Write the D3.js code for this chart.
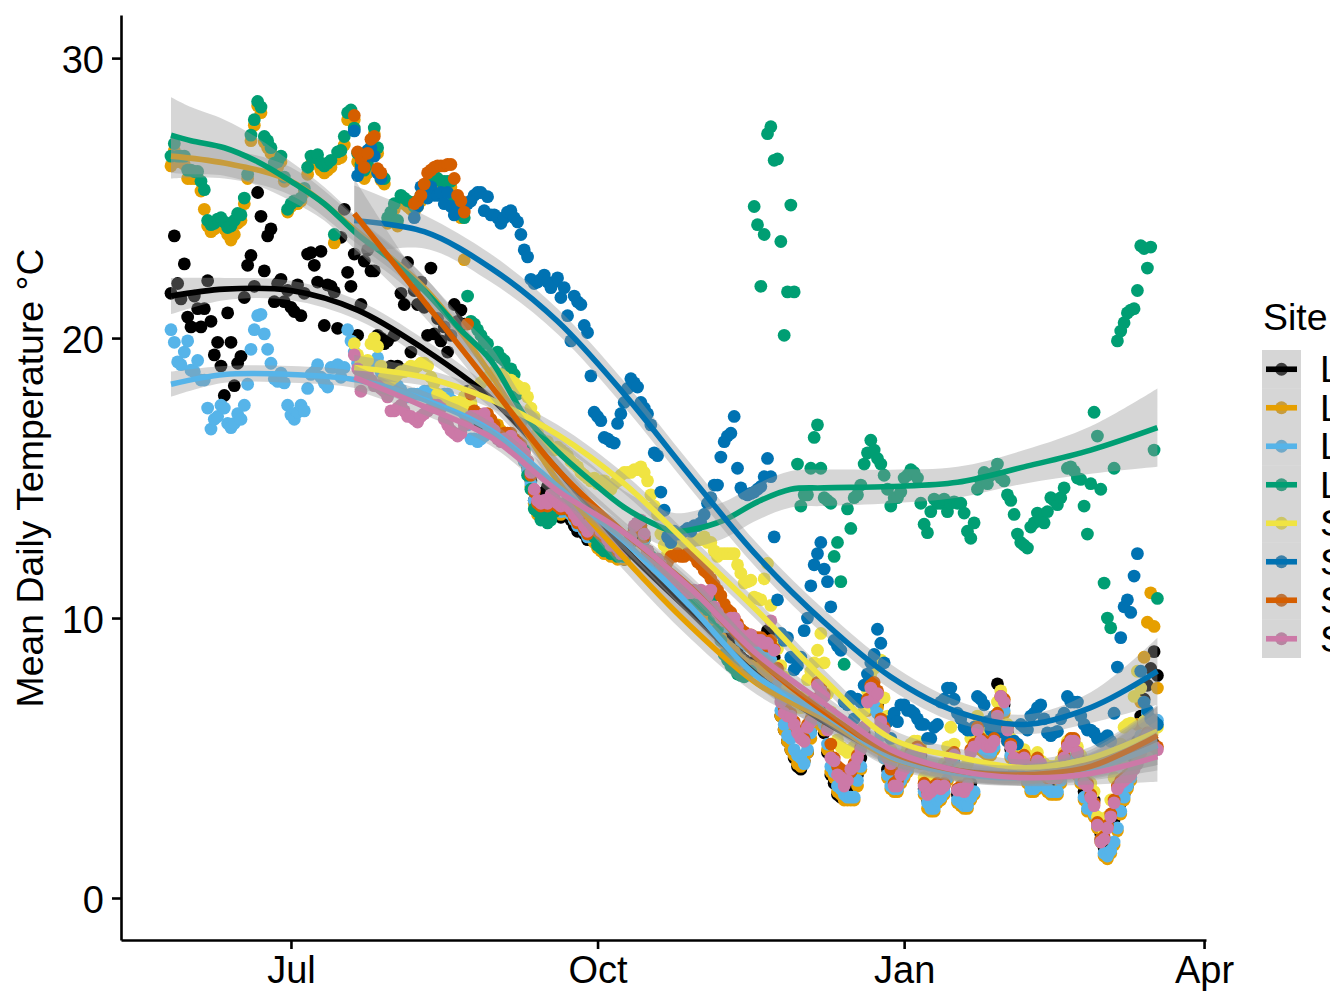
<!DOCTYPE html>
<html>
<head>
<meta charset="utf-8">
<script src="https://cdn.jsdelivr.net/npm/d3@7"></script>
<style>
  html, body { margin: 0; padding: 0; background: #fff; overflow: hidden; }
  svg { display: block; font-family: "Liberation Sans", Arial, sans-serif; }
</style>
</head>
<body>
<div id="chart"></div>
<script>
// site names are cut off at the edge of the picture, only the first letter shows
const siteLabels = ["L", "L", "L", "L", "S", "S", "S", "S"];
const siteColors = ["#000000", "#E69F00", "#56B4E9", "#009E73", "#F0E442", "#0072B2", "#D55E00", "#CC79A7"];
const tickMonths = ["2018-07-01", "2018-10-01", "2019-01-01", "2019-04-01"];
const tickLabels = ["Jul", "Oct", "Jan", "Apr"];
const tempTicks = [0, 10, 20, 30];

// daily means, days counted from 1 Jul. L sites start on day -36, S sites on day 19
const startL = -36;
const startS = 19;

const l1Temps = [
  21.6,23.65,21.95,21.4,22.65,20.75,20.4,21.5,21.05,20.4,
  21.05,22.05,20.6,19.4,19.85,19,17.95,20.9,19.85,18.3,
  19.1,19.35,21.45,22.6,22.95,21.85,25.2,24.35,22.4,23.65,
  23.9,21.3,21.95,22.1,21.3,21.7,21.1,20.95,21.9,20.8,
  21.6,23,23.05,22.6,22,23.1,20.45,21.9,21.85,21.65,
  20.35,23.6,24.6,22.35,21.85,23,20.1,21.2,22.75,23.15,
  22.4,22.4,20.1,20,19.8,19.9,19,20.1,19,21.6,
  21.2,22.7,19.5,21.7,21.2,22,21.1,20.1,22.5,20.15,
  20.7,19.9,20.4,19.5,20.1,21.2,20.6,21.0,20.5,18.1,
  17.6,17.1,17.0,16.9,16.8,16.7,16.8,16.7,16.6,16.6,
  16.5,16.4,16.5,16.2,16.1,16.0,15.7,15.4,14.9,14.2,
  13.8,13.7,14.5,14.7,14.2,14.0,13.7,13.6,13.7,13.7,
  13.5,13.3,13.1,13.3,13.0,12.8,13.0,12.9,12.8,12.6,
  12.4,12.4,12.4,12.3,12.2,12.2,12.1,12.4,12.7,13.0,
  13.1,13.2,12.8,12.2,12.0,11.9,11.8,11.6,11.5,11.3,
  11.2,11.2,11.1,11.0,10.9,10.8,10.8,10.7,10.6,10.6,
  10.5,10.4,10.3,10.1,9.8,9.5,9.4,9.3,9.2,9.2,
  8.9,8.6,8.5,8.4,8.4,8.3,8.3,8.3,8.2,9.55,
  9.3,8.6,7.7,6.5,6.0,5.6,5.3,5.0,4.7,4.6,
  4.9,5.2,6.0,6.5,6.8,6.7,5.9,5.2,4.4,4.1,
  3.7,3.6,3.7,4.2,3.9,4.2,4.4,5.0,5.9,7.0,
  7.6,7.2,6.9,6.0,5.2,4.6,4.2,4.1,4.1,4.4,
  4.6,4.8,5.0,5.1,5.2,5.1,3.9,3.5,3.3,3.3,
  3.7,3.8,4.0,4.5,5.0,5.0,3.7,3.6,3.5,3.5,
  4.1,5.5,5.7,5.6,5.5,5.6,5.9,6.1,7.65,7.0,
  6.9,5.9,5.3,4.9,4.8,4.8,4.8,4.4,4.1,4.1,
  4.3,4.5,4.4,4.2,4.1,4.1,4.2,4.5,4.9,5.3,
  5.5,5.4,4.8,4.5,3.8,3.4,3.4,3.5,2.8,2.3,
  1.8,1.7,1.9,2.8,3.2,3.4,3.7,4.0,4.4,5.0,
  5.6,6.5,7.1,7.6,8.2,8.8,7.95
];

const l2Temps = [
  26.15,26.7,26.3,26.3,26.2,25.7,25.7,25.7,25.7,25.25,
  24.6,24.0,23.8,23.9,24.0,24.0,23.9,23.7,23.5,23.7,
  24.1,24.2,24.8,25.7,27.05,27.6,28.3,28.05,27.0,26.8,
  26.6,26.1,26.1,26.3,25.6,24.5,24.7,24.8,24.8,24.9,
  25.2,25.85,26.2,26.3,26.35,26.0,25.9,26.0,26.1,23.4,
  26.4,26.45,26.9,27.8,28.1,27.8,26.3,26.1,25.7,25.9,
  26.6,27.3,26.6,25.65,25.5,24.1,24.3,24.6,24.0,24.9,
  24.8,24.7,24.6,24.5,24.7,24.9,25.0,25.3,25.4,25.6,
  25.5,25.4,25.4,25.4,25.4,24.8,24.5,24.3,22.8,18.0,
  17.5,17.3,17.2,17.1,17.0,17.0,16.9,16.9,16.9,16.7,
  16.5,16.5,16.4,16.2,16.1,15.9,15.6,15.3,14.7,14.1,
  13.7,13.6,13.6,13.6,13.7,13.8,13.8,13.7,13.8,13.8,
  13.8,13.5,13.5,13.4,13.3,13.0,12.9,12.7,12.5,12.4,
  12.3,12.3,12.2,12.2,12.1,12.2,12.1,12.4,12.8,13.1,
  13.3,13.2,12.8,12.3,12.1,11.9,11.8,11.6,11.4,11.3,
  11.2,11.1,10.9,10.8,10.7,10.5,10.5,10.6,10.4,10.4,
  10.3,10.2,10.1,9.9,9.6,9.3,9.1,9.0,8.9,8.8,
  8.6,8.5,8.4,8.3,8.3,8.2,8.2,8.2,8.1,8.1,
  8.0,7.9,7.4,6.5,6.0,5.6,5.3,5.1,4.8,4.7,
  4.9,5.2,5.7,6.2,6.7,6.4,6.0,5.3,4.5,4.3,
  3.8,3.7,3.5,3.5,3.5,3.5,4.0,4.6,5.6,6.7,
  7.4,7.2,6.8,6.2,5.0,4.3,3.9,3.8,3.8,4.1,
  4.3,4.5,4.8,4.9,4.9,4.8,3.7,3.2,3.1,3.1,
  3.4,3.5,3.7,4.2,4.7,4.7,3.4,3.3,3.2,3.2,
  3.5,3.7,5.4,5.3,5.2,5.1,5.1,5.3,6.1,6.7,
  6.6,5.6,5.0,4.6,4.5,4.5,4.5,4.1,3.8,3.8,
  3.9,4.1,4.0,3.8,3.7,3.7,3.7,4.1,4.5,4.9,
  5.1,5.0,4.4,4.1,3.5,3.1,3.1,2.9,2.5,2.0,
  1.5,1.4,1.6,1.9,2.4,3.0,3.5,3.9,4.2,4.7,
  6.2,7.0,8.6,9.85,10.9,9.7,7.5
];

const l3Temps = [
  20.3,19.85,19.15,19.05,19.5,19.9,18.85,18.8,19.2,18.5,
  18.5,17.5,16.75,17.1,17.2,17.6,17.5,16.95,16.8,16.95,
  17.3,17.1,17.6,18.35,19.6,20.3,20.8,20.85,20.15,19.6,
  19.1,18.55,18.45,18.75,18.4,17.6,17.25,17.1,17.35,17.6,
  17.4,18.2,18.7,18.8,19.05,18.6,18.4,18.25,18.95,18.95,
  19.05,18.6,18.95,20.3,19.9,19.5,19.1,18.75,18.75,18.9,
  19.0,19.1,19.3,18.8,18.3,18.15,18.2,18.3,18.3,18.15,
  18.0,17.9,18.0,18.0,18.0,18.0,18.1,18.1,18.0,17.95,
  17.9,17.9,18.0,18.0,17.8,17.7,17.6,17.5,17.3,16.9,
  16.4,16.4,16.3,16.4,16.5,16.6,16.7,16.6,16.5,16.5,
  16.45,16.3,16.3,16.1,16.0,15.9,15.6,15.3,14.8,14.2,
  13.9,13.8,13.8,13.7,13.9,13.9,13.9,13.8,13.9,13.8,
  13.7,13.5,13.3,13.5,13.1,12.9,13.1,13.0,12.9,12.8,
  12.6,12.6,12.5,12.5,12.3,12.2,12.2,12.5,12.7,13.1,
  13.2,13.3,12.8,12.2,11.9,11.9,11.9,11.7,11.5,11.3,
  11.2,11.2,11.1,11.0,10.9,10.7,10.7,10.8,10.7,10.8,
  10.7,10.6,10.8,10.2,10.0,9.8,9.7,9.7,9.7,9.8,
  9.5,9.2,9.1,9.0,9.2,9.0,9.0,8.9,8.7,8.6,
  8.5,8.3,7.6,6.7,6.2,5.8,5.7,5.3,5.1,5.0,
  4.8,5.3,5.9,6.4,6.8,6.6,6.2,5.5,4.7,4.5,
  4.0,3.9,3.7,3.6,3.6,3.6,4.2,4.7,5.7,6.8,
  7.3,7.0,6.6,5.8,5.0,4.4,4.0,3.9,3.9,4.2,
  4.4,4.6,4.9,5.0,5.0,4.9,3.8,3.4,3.2,3.2,
  3.5,3.6,3.8,4.3,4.8,4.8,3.5,3.4,3.3,3.3,
  3.6,3.8,5.5,5.4,5.3,5.2,5.2,5.4,6.2,6.8,
  6.7,5.7,5.1,4.7,4.6,4.6,4.6,4.2,3.9,3.9,
  4.0,4.2,4.1,3.9,3.8,3.8,3.8,4.2,4.6,5.0,
  5.2,5.1,4.5,4.2,3.6,3.2,3.2,3.0,2.6,2.1,
  1.6,1.5,1.7,2.0,2.5,3.1,3.6,4.0,4.3,4.7,
  5.2,5.8,6.3,6.6,6.4,6.3,6.35
];

const l4Temps = [
  26.5,26.95,26.5,26.5,26.5,26,26,25.95,25.95,25.6,
  25.3,24.2,24.05,24.1,24.25,24.3,24.15,23.95,24,24.2,
  24.45,24.4,25,25.85,27.25,27.8,28.45,28.25,27.2,27.05,
  26.8,26.25,26.3,26.5,25.75,24.6,24.8,24.9,24.9,25,
  25.35,26.1,26.5,26.45,26.55,26.25,26.15,26.25,26.35,23.7,
  26.65,26.7,27.2,28.05,28.15,27.5,26.6,26.2,26.0,26.2,
  26.8,27.5,26.8,25.85,25.7,24.3,24.5,24.8,24.2,25.1,
  25,24.9,24.85,24.7,24.9,25.1,25.2,25.5,25.6,25.8,
  25.7,25.6,25.6,25.6,25.6,25.0,24.7,24.5,24.3,21.5,
  20.6,20.5,20.3,20.1,19.9,19.8,19.4,19.4,19.5,19.3,
  19.2,18.9,18.9,18.7,18.0,17.0,16.0,15.1,14.6,13.9,
  13.8,13.5,13.6,13.4,13.5,13.8,13.9,13.9,13.9,14.0,
  14.0,13.8,13.7,13.6,13.6,13.3,13.0,12.9,12.6,12.5,
  12.4,12.4,12.3,12.3,12.2,12.3,12.2,12.5,12.9,13.2,
  13.4,13.3,12.9,12.4,12.2,12.0,11.9,11.7,11.6,11.4,
  11.3,11.2,11.0,10.9,10.8,10.6,10.6,10.7,10.5,10.5,
  10.4,10.3,10.65,10.0,9.6,9.2,8.7,8.5,8.3,8.2,
  8.0,7.95,7.9,8.0,8.1,24.7,24.05,21.85,23.7,27.3,
  27.55,26.35,26.4,23.45,20.1,21.65,24.75,21.65,15.5,14.0,
  14.4,14.4,15.35,16.45,16.9,15.35,14.3,14.2,14.1,12.2,
  12.7,11.3,8.35,13.9,13.2,14.3,14.4,14.75,15.5,15.9,
  16.35,16.0,15.7,15.5,15.1,14.6,14.0,14.3,14.3,14.5,
  15.0,15.1,15.3,15.2,15.0,14.1,13.35,13.05,13.8,14.25,
  14.1,14.1,14.25,13.8,14.1,14.15,14.1,14.1,13.75,13.1,
  12.85,13.4,14.6,14.9,15.2,14.8,15.1,15.2,15.5,15.0,
  14.9,14.4,14.2,13.7,13.0,12.7,12.6,12.5,13.25,13.4,
  13.75,13.5,13.4,13.8,14.3,14.2,14.05,14.3,14.65,15.35,
  15.4,15.25,15.0,14.95,14.0,13.0,14.8,17.35,16.5,14.6,
  11.25,10.0,9.65,15.35,19.9,20.25,20.55,20.9,21.0,21.05,
  21.7,23.3,23.2,22.5,23.25,16.0,10.7
];

const s5Temps = [
  19.8,19.4,19.1,19.0,19.2,19.8,20.0,19.7,19.0,18.6,
  18.5,18.5,18.6,18.7,18.8,18.8,18.9,19.0,18.9,19.0,
  19.1,19.1,19.0,18.6,18.4,18.0,17.9,17.8,17.7,17.6,
  17.7,17.7,17.5,17.9,17.6,17.7,18.2,18.2,18.4,18.5,
  18.6,18.7,18.8,18.7,18.7,18.6,18.5,18.5,18.4,18.3,
  18.2,18.2,17.9,17.5,17.2,16.6,16.4,16.2,16.3,16.1,
  16.0,16.1,16.0,15.9,15.8,15.6,15.5,15.4,15.2,15.1,
  15.0,14.9,15.0,14.8,14.9,14.9,14.7,14.6,14.8,14.9,
  15.1,15.2,15.2,15.2,15.3,15.3,15.4,15.2,14.9,14.4,
  14.0,13.7,13.0,12.6,12.3,12.3,12.5,12.7,12.6,12.6,
  12.6,12.7,12.8,12.8,12.8,12.9,12.7,12.7,12.4,12.2,
  12.3,12.3,12.3,12.3,12.3,11.9,11.6,11.25,11.3,11.35,
  10.75,10.7,10.65,11.4,11.95,10.45,9.1,8.9,8.3,7.9,
  7.5,7.3,7.2,7.0,6.8,7.2,7.8,8.1,8.4,8.85,
  9.45,8.4,7.3,6.65,6.2,5.65,5.4,5.3,5.2,5.3,
  5.4,5.6,6.0,6.7,7.4,8.0,8.2,8.4,8.5,7.15,
  6.5,5.3,4.7,4.6,4.9,5.1,5.3,5.5,5.6,5.6,
  5.5,4.3,4.0,4.1,4.3,4.5,4.6,4.8,5.4,6.1,
  5.5,4.4,4.6,4.5,4.8,5.7,5.9,6.5,6.3,6.0,
  5.8,5.7,5.8,7.0,7.4,7.1,6.2,5.7,5.3,5.2,
  5.2,5.3,5.1,5.0,5.0,5.2,4.9,4.8,4.7,4.7,
  4.7,4.7,4.9,5.2,5.6,5.7,5.65,5.4,5.1,4.4,
  4.2,4.1,3.8,2.9,2.8,2.4,2.9,3.5,4.3,5.0,
  5.5,6.1,6.2,6.25,7.2,8.1,7.5,6.3,6.4,6.3,
  6.2,6.1
];

// S6 and S7 have no readings for days 28 to 36
const s6Temps = [
  27.4,25.8,26.05,26.4,26.7,26.8,26.5,25.9,25.7,null,
  null,null,null,null,null,null,null,null,24.3,24.7,
  25.4,25.1,25.0,25.4,25.1,25.1,25.2,24.8,25.2,24.7,
  24.4,24.7,24.6,24.75,24.8,24.9,25.1,25.2,25.2,24.55,
  25.05,24.4,24.4,24.3,24.1,24.3,24.5,24.55,24.3,24.15,
  23.7,23.15,22.9,22.1,21.95,22.0,22.1,22.25,22.0,21.8,
  22.0,22.15,21.45,21.8,20.8,19.9,21.5,21.3,21.2,20.45,
  20.2,18.65,17.35,17.2,17.05,16.45,16.4,16.3,16.25,16.95,
  17.3,17.7,18.2,18.55,18.4,18.25,17.7,17.5,17.3,16.9,
  15.9,15.8,14.5,13.85,12.9,12.7,13.1,13.0,13.0,13.1,
  13.2,13.1,13.3,13.3,13.4,13.7,14.1,14.3,14.75,14.75,
  15.75,16.3,16.5,16.6,17.2,15.35,14.65,14.45,14.4,14.45,
  14.5,14.6,14.7,15.05,15.7,15.05,12.9,10.65,9.45,9.2,
  9.3,8.6,8.15,8.3,8.6,9.55,10.0,11.15,11.9,12.3,
  12.7,11.75,11.3,10.4,9.2,9.0,8.85,7.0,6.9,7.2,
  6.4,7.1,7.0,7.6,8.0,8.4,8.7,9.6,9.1,8.4,
  6.3,5.7,6.6,6.3,6.9,6.9,6.7,6.7,6.6,6.4,
  6.2,6.2,5.7,5.7,6.1,6.2,7.0,7.1,7.5,7.5,
  7.1,6.6,6.4,6.1,6.0,6.0,6.1,7.2,7.1,6.9,
  6.3,6.0,6.5,6.2,6.0,5.9,5.6,5.5,5.6,5.5,
  6.2,6.1,6.0,6.5,6.6,6.8,6.9,6.4,5.9,5.8,
  5.9,5.95,6.4,6.6,7.2,7.0,7.0,7.0,6.5,6.2,
  6.0,6.0,5.9,5.7,5.6,5.7,5.8,5.6,6.6,8.25,
  9.3,10.4,10.65,10.2,11.5,12.3,8.1,7.0,6.7,6.4,
  6.3,6.2
];

const s7Temps = [
  27.95,26.65,26.4,26.1,26.6,27.1,27.2,26.05,25.9,null,
  null,null,null,null,null,null,null,null,24.8,24.9,
  25.1,25.5,25.9,26.0,26.1,26.15,26.15,26.15,26.2,26.2,
  25.7,25.1,24.9,24.5,20.5,18.0,17.4,17.3,17.2,17.2,
  17.3,17.1,16.9,16.6,16.5,16.6,16.6,16.6,16.4,16.3,
  16.2,15.9,15.6,15.1,14.5,14.1,14.0,14.1,14.0,14.3,
  14.2,14.0,13.9,14.0,13.9,13.8,13.6,13.4,13.6,13.2,
  13.0,13.3,13.2,13.1,13.0,12.9,12.8,12.6,12.6,12.4,
  12.3,12.3,12.6,12.8,13.1,13.2,13.3,12.9,12.4,12.1,
  12.1,12.1,12.0,11.9,12.0,12.2,12.2,12.3,12.2,12.2,
  12.3,12.3,12.2,12.0,11.9,11.7,11.6,11.4,11.2,11.0,
  10.8,10.5,10.3,10.2,10.0,9.8,9.6,9.5,9.4,9.4,
  9.3,9.3,9.3,9.2,9.0,9.2,8.9,8.2,7.2,6.8,
  6.7,6.6,6.3,6.0,5.8,5.7,6.2,6.4,7.1,7.7,
  7.6,7.3,6.1,5.5,5.0,4.7,4.6,4.5,4.4,4.5,
  4.8,5.1,5.4,6.1,7.1,7.6,7.7,7.4,6.4,6.1,
  5.1,4.6,4.1,4.2,4.5,4.7,4.9,5.2,5.3,5.4,
  5.3,4.1,3.8,3.9,4.0,4.1,4.0,4.1,4.7,5.1,
  5.2,3.9,4.0,3.9,4.1,5.3,5.5,6.1,5.7,5.6,
  5.5,5.5,5.7,6.6,7.2,7.1,6.1,5.5,5.0,5.0,
  5.0,5.1,4.8,4.6,4.7,5.0,4.7,4.4,4.3,4.3,
  4.3,4.3,4.6,5.1,5.5,5.7,5.7,5.2,4.9,4.2,
  4.1,3.7,3.4,2.7,2.1,2.2,2.6,3.0,3.5,4.0,
  4.2,4.3,4.4,4.5,4.7,4.9,5.3,5.7,5.9,5.6,
  5.5,5.4
];

const s8Temps = [
  19.4,18.9,18.1,18.6,18.7,18.5,18.3,18.3,18.2,18.1,
  17.9,17.4,17.4,17.5,17.6,17.4,17.2,17.2,17.1,17.0,
  17.2,17.3,17.4,17.5,17.6,17.6,17.5,17.1,16.9,16.7,
  16.6,16.5,16.6,16.9,17.1,17.2,17.2,17.2,17.2,17.3,
  17.0,16.8,16.7,16.4,16.3,16.4,16.4,16.5,16.3,16.2,
  16.1,15.9,15.6,15.2,14.6,14.2,14.1,14.2,14.1,14.4,
  14.3,14.1,14.0,14.1,14.0,13.9,13.7,13.5,13.8,13.3,
  13.1,13.5,13.4,13.3,13.1,13.0,12.8,12.6,12.7,12.5,
  12.3,12.4,12.7,12.9,13.3,13.4,13.5,13.0,12.4,12.1,
  12.1,12.1,11.9,11.7,11.5,11.4,11.4,11.3,11.2,11.1,
  10.9,10.9,11.0,10.9,11.0,10.9,10.8,11.0,10.4,10.2,
  10.0,9.9,9.9,10.0,10.0,9.7,9.4,9.3,9.2,9.4,
  9.2,9.2,9.2,9.1,9.1,9.9,8.85,8.0,7.0,6.6,
  6.5,6.5,6.2,5.9,5.7,5.6,6.1,6.3,7.0,7.6,
  7.4,7.2,6.0,5.0,4.9,4.4,4.3,4.0,4.2,4.6,
  4.7,5.0,5.3,6.1,7.0,7.5,7.15,7.3,6.3,6.0,
  5.0,4.8,4.0,4.0,4.4,4.6,4.8,5.1,5.2,5.3,
  5.2,4.0,3.7,3.8,3.9,4.0,3.9,4.0,4.6,5.0,
  5.1,3.85,3.9,3.8,4.0,5.2,5.4,6.0,5.6,5.5,
  5.4,5.4,5.6,6.5,7.2,7.0,6.0,5.4,5.0,4.9,
  4.9,5.0,4.7,4.5,4.6,4.9,4.8,4.5,4.4,4.3,
  4.3,4.3,4.6,5.0,5.4,5.6,5.6,5.2,4.8,4.1,
  4.0,3.6,3.3,2.6,2.0,2.1,2.5,2.9,3.4,3.9,
  4.1,4.2,4.3,4.4,4.6,4.8,5.2,5.6,5.8,5.5,
  5.4,5.3
];

// smoother: fit and half width of the grey band
const fitDaysL = [-36,-20,0,20,40,60,80,100,120,140,160,180,200,220,240,260];
const fitDaysL4 = [-36,-30,-20,-10,0,10,20,30,40,50,60,70,80,90,100,110,115,120,130,140,150,160,180,200,220,240,260];
const fitDaysS = [19,40,60,80,100,120,140,160,180,200,220,240,260];

const l1Fit = [21.5,21.75,21.7,21.0,19.6,17.85,15.3,12.5,10.2,7.95,6.3,5.1,4.55,4.45,4.75,5.7];
const l2Fit = [26.5,26.25,25.6,23.8,21.8,18.7,14.9,12.15,9.7,7.65,6.4,5.0,4.5,4.4,4.85,5.9];
const l3Fit = [18.35,18.7,18.7,18.5,17.8,16.7,14.7,12.75,10.4,7.9,6.55,5.05,4.45,4.3,4.6,5.45];
const l4Fit = [27.25,27.05,26.8,26.3,25.6,24.8,23.7,22.8,21.7,20.4,19.2,17.25,15.95,14.9,13.95,13.3,13.1,13.15,13.5,14.15,14.6,14.65,14.7,14.85,15.4,16.0,16.8];
const s5Fit = [18.95,18.6,17.8,16.55,14.8,12.55,10.25,7.8,5.7,5.05,4.65,5.0,5.95];
const s6Fit = [24.2,23.8,22.5,20.6,18.0,15.05,12.2,9.85,7.9,6.65,6.2,6.8,8.1];
const s7Fit = [24.45,21.3,18.3,15.3,13.05,11.1,8.55,6.65,5.2,4.55,4.4,4.7,5.8];
const s8Fit = [18.6,17.55,16.45,14.55,13.05,11.05,8.7,6.95,5.3,4.55,4.3,4.45,5.05];

const l1Se = [.65,.4,.35,.35,.35,.35,.4,.4,.4,.4,.35,.35,.35,.35,.45,.95];
const l2Se = [.8,.55,.5,.45,.4,.4,.4,.45,.45,.4,.35,.35,.35,.35,.45,.95];
const l3Se = [.45,.3,.3,.3,.3,.3,.35,.35,.35,.35,.35,.3,.3,.3,.4,.9];
const l4Se = [1.35,1.2,1.0,.85,.7,.6,.6,.55,.5,.5,.5,.55,.55,.6,.6,.65,.65,.65,.65,.65,.65,.65,.6,.55,.6,.85,1.4];
const s5Se = [.45,.3,.3,.35,.35,.35,.35,.35,.35,.3,.3,.4,.95];
const s6Se = [1.25,.6,.5,.45,.45,.45,.45,.45,.45,.4,.35,.55,1.2];
const s7Se = [1.25,.55,.45,.4,.4,.4,.4,.4,.4,.35,.35,.45,1.05];
const s8Se = [.45,.3,.3,.3,.3,.3,.3,.3,.3,.3,.3,.4,.9];

const allTemps = [l1Temps, l2Temps, l3Temps, l4Temps, s5Temps, s6Temps, s7Temps, s8Temps];
const allStarts = [startL, startL, startL, startL, startS, startS, startS, startS];
const allFitDays = [fitDaysL, fitDaysL, fitDaysL, fitDaysL4, fitDaysS, fitDaysS, fitDaysS, fitDaysS];
const allFits = [l1Fit, l2Fit, l3Fit, l4Fit, s5Fit, s6Fit, s7Fit, s8Fit];
const allSes = [l1Se, l2Se, l3Se, l4Se, s5Se, s6Se, s7Se, s8Se];

const width = 1330;
const height = 995;
const plot = { left: 121, right: 1206, top: 15, bottom: 940 };
const pointR = 6.4;
const lineW = 5.6;

const svg = d3.select("#chart")
  .append("svg")
  .attr("width", width)
  .attr("height", height);

const parseDay = d3.utcParse("%Y-%m-%d");
const july1 = parseDay("2018-07-01");
const dayToDate = (d) => d3.utcDay.offset(july1, d);

const x = d3.scaleUtc()
  .domain([parseDay("2018-05-11"), new Date(Date.UTC(2019, 3, 1, 14))])
  .range([plot.left, plot.right]);

const y = d3.scaleLinear()
  .domain([-1.5, 31.54])
  .range([plot.bottom, plot.top]);

// points first, all sites, then one smoother at a time on top
allTemps.forEach((temps, i) => {
  const rows = temps
    .map((t, k) => ({ day: allStarts[i] + k, temp: t }))
    .filter((d) => d.temp !== null);
  svg.append("g")
    .selectAll("circle")
    .data(rows)
    .enter()
    .append("circle")
    .attr("cx", (d) => x(dayToDate(d.day)))
    .attr("cy", (d) => y(d.temp))
    .attr("r", pointR)
    .attr("fill", siteColors[i]);
});

const band = d3.area()
  .x((d) => x(dayToDate(d.day)))
  .y0((d) => y(d.fit - d.se))
  .y1((d) => y(d.fit + d.se))
  .curve(d3.curveCatmullRom);

const fitLine = d3.line()
  .x((d) => x(dayToDate(d.day)))
  .y((d) => y(d.fit))
  .curve(d3.curveCatmullRom);

allFits.forEach((fit, i) => {
  const rows = fit.map((f, k) => ({ day: allFitDays[i][k], fit: f, se: allSes[i][k] }));
  svg.append("path")
    .attr("d", band(rows))
    .attr("fill", "#999999")
    .attr("fill-opacity", 0.4);
  svg.append("path")
    .attr("d", fitLine(rows))
    .attr("fill", "none")
    .attr("stroke", siteColors[i])
    .attr("stroke-width", lineW);
});

// axes
const xAxis = d3.axisBottom(x)
  .tickValues(tickMonths.map(parseDay))
  .tickFormat((d, i) => tickLabels[i])
  .tickSizeInner(9)
  .tickSizeOuter(0)
  .tickPadding(7);

const yAxis = d3.axisLeft(y)
  .tickValues(tempTicks)
  .tickSizeInner(9)
  .tickSizeOuter(0)
  .tickPadding(8);

const gx = svg.append("g")
  .attr("transform", `translate(0,${plot.bottom})`)
  .call(xAxis);

const gy = svg.append("g")
  .attr("transform", `translate(${plot.left},0)`)
  .call(yAxis);

[gx, gy].forEach((g) => {
  g.attr("font-family", null).attr("font-size", null);
  g.selectAll("path").attr("stroke", "#000").attr("stroke-width", 2.6);
  g.selectAll("line").attr("stroke", "#000").attr("stroke-width", 2.6);
  g.selectAll("text").attr("fill", "#000").style("font-size", "38px");
});
gy.selectAll("text").attr("dy", "0.38em");

svg.append("text")
  .attr("transform", `translate(43,478) rotate(-90)`)
  .attr("text-anchor", "middle")
  .style("font-size", "37.4px")
  .text("Mean Daily Temperature °C");

// legend
const legendY = d3.scaleBand()
  .domain(d3.range(siteLabels.length))
  .range([350, 658]);

svg.append("text")
  .attr("x", 1263)
  .attr("y", 330)
  .style("font-size", "37.4px")
  .text("Site");

const keys = svg.append("g")
  .selectAll("g")
  .data(siteLabels)
  .enter()
  .append("g")
  .attr("transform", (d, i) => `translate(1262,${legendY(i)})`);

const keyH = legendY.bandwidth();

keys.append("circle")
  .attr("cx", 19.5)
  .attr("cy", keyH / 2)
  .attr("r", pointR)
  .attr("fill", (d, i) => siteColors[i]);

keys.append("rect")
  .attr("width", 39)
  .attr("height", keyH)
  .attr("fill", "#999999")
  .attr("fill-opacity", 0.4);

keys.append("line")
  .attr("x1", 4)
  .attr("x2", 35)
  .attr("y1", keyH / 2)
  .attr("y2", keyH / 2)
  .attr("stroke", (d, i) => siteColors[i])
  .attr("stroke-width", lineW);

keys.append("text")
  .attr("x", 58)
  .attr("y", keyH / 2 + 13)
  .style("font-size", "37.4px")
  .text((d) => d);
</script>
</body>
</html>
